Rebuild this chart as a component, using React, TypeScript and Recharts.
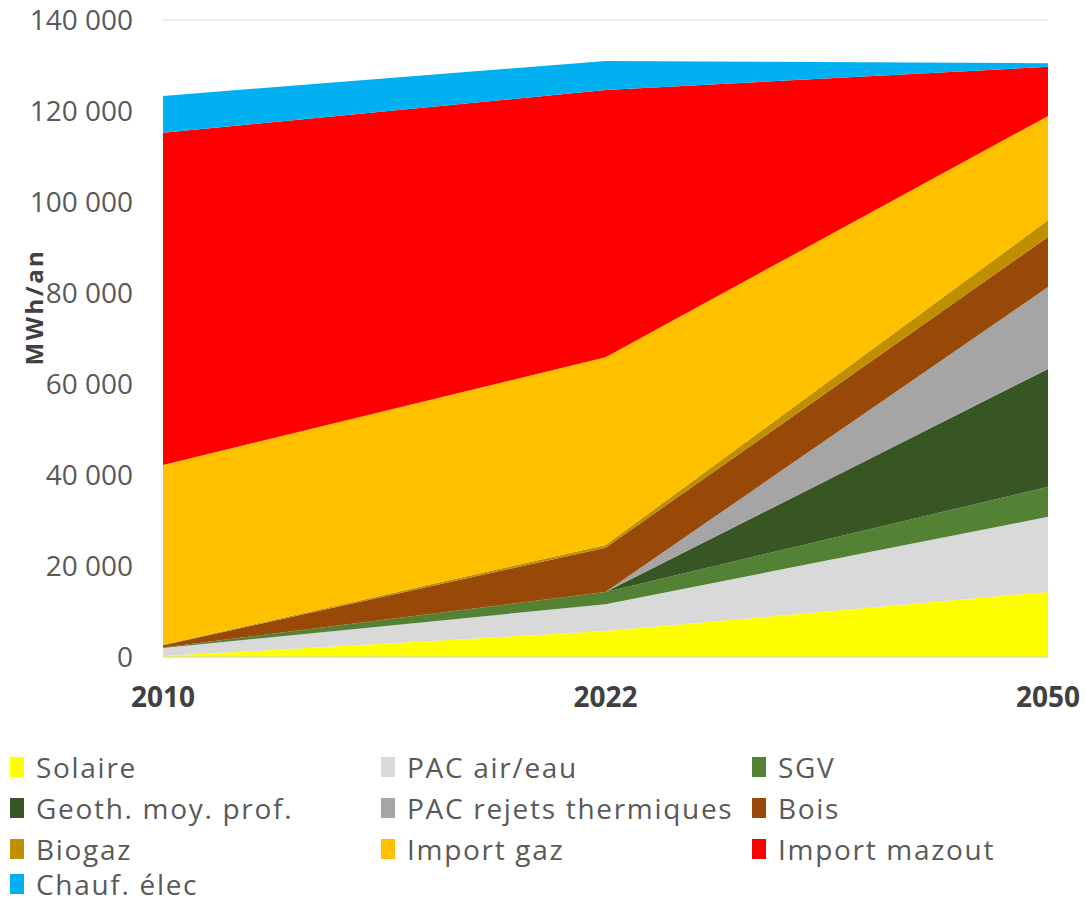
import React from 'react';
import { AreaChart, Area, XAxis, YAxis, CartesianGrid } from 'recharts';

const years = ['2010', '2022', '2050'];
const solaire = [200, 5700, 14300];
const pacAirEau = [1800, 5900, 16500];
const sgv = [100, 2700, 6600];
const geoth = [0, 0, 25900];
const pacRejets = [0, 0, 18000];
const bois = [500, 9700, 11000];
const biogaz = [100, 600, 3700];
const importGaz = [39500, 41300, 22900];
const importMazout = [73000, 58700, 10800];
const chaufElec = [8100, 6400, 800];
const yTicks = [0, 20000, 40000, 60000, 80000, 100000, 120000, 140000];

const series = [
  { key: 'solaire', name: 'Solaire', color: '#FFFF00', values: solaire },
  { key: 'pacAirEau', name: 'PAC air/eau', color: '#D9D9D9', values: pacAirEau },
  { key: 'sgv', name: 'SGV', color: '#548235', values: sgv },
  { key: 'geoth', name: 'Geoth. moy. prof.', color: '#375623', values: geoth },
  { key: 'pacRejets', name: 'PAC rejets thermiques', color: '#A5A5A5', values: pacRejets },
  { key: 'bois', name: 'Bois', color: '#984807', values: bois },
  { key: 'biogaz', name: 'Biogaz', color: '#BF8F00', values: biogaz },
  { key: 'importGaz', name: 'Import gaz', color: '#FFC000', values: importGaz },
  { key: 'importMazout', name: 'Import mazout', color: '#FF0000', values: importMazout },
  { key: 'chaufElec', name: 'Chauf. élec', color: '#00B0F0', values: chaufElec },
];

const data = years.map((year, i) => {
  const row: Record<string, string | number> = { year };
  series.forEach((s) => {
    row[s.key] = s.values[i];
  });
  return row;
});

const FONT = '"Open Sans", sans-serif';

const fmt = (v: number) => String(v).replace(/\B(?=(\d{3})+(?!\d))/g, ' ');

function YTitle() {
  return (
    <text
      transform="translate(33,307) rotate(-90)"
      textAnchor="middle"
      dominantBaseline="central"
      fontFamily={FONT}
      fontSize={24}
      fontWeight="bold"
      letterSpacing={2.5}
      fill="#404040"
    >
      MWh/an
    </text>
  );
}

// legend columns (text x) and rows (center y)
const legendCols = [36, 407, 778];
const legendRows = [767, 808, 849, 884];

export default function App() {
  return (
    <div style={{ position: 'absolute', left: 0, top: 0, width: 1085, height: 905, background: '#fff', overflow: 'hidden' }}>
      <AreaChart
        width={1085}
        height={720}
        data={data}
        margin={{ top: 20, right: 37, left: 0, bottom: 0 }}
      >
        <CartesianGrid horizontal vertical={false} stroke="#D9D9D9" />
        <XAxis
          dataKey="year"
          height={63}
          tickSize={0}
          tickMargin={30}
          axisLine={{ stroke: '#D9D9D9' }}
          tick={{ fill: '#404040', fontSize: 28, fontWeight: 'bold', fontFamily: FONT }}
        />
        <YAxis
          width={163}
          domain={[0, 140000]}
          ticks={yTicks}
          tickFormatter={fmt}
          tickSize={0}
          tickMargin={30}
          axisLine={false}
          tick={{ fill: '#595959', fontSize: 28, fontFamily: FONT }}
          label={<YTitle />}
        />
        {series.map((s) => (
          <Area
            key={s.key}
            type="linear"
            dataKey={s.key}
            name={s.name}
            stackId="1"
            stroke="none"
            fill={s.color}
            fillOpacity={1}
            isAnimationActive={false}
          />
        ))}
      </AreaChart>
      {series.map((s, i) => {
        const col = legendCols[i % 3];
        const row = legendRows[Math.floor(i / 3)];
        return (
          <div
            key={s.key}
            style={{
              position: 'absolute',
              left: col - 26,
              top: row - 16,
              height: 32,
              lineHeight: '32px',
              display: 'flex',
              alignItems: 'center',
              fontFamily: FONT,
              fontSize: 28,
              letterSpacing: 1.7,
              color: '#595959',
              whiteSpace: 'nowrap',
            }}
          >
            <span style={{ display: 'inline-block', width: 14, height: 20, background: s.color, marginRight: 12 }} />
            {s.name}
          </div>
        );
      })}
    </div>
  );
}
